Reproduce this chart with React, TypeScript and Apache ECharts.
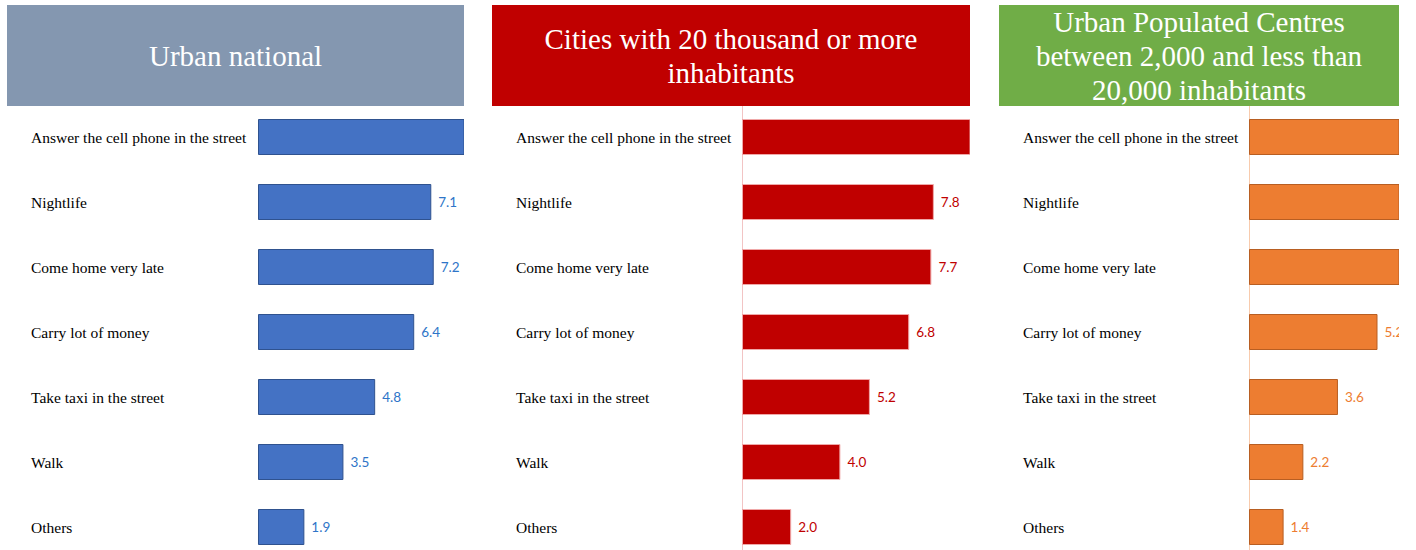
import React, { useEffect, useRef } from "react";
import * as echarts from "echarts";

const categories = [
  "Answer the cell phone in the street",
  "Nightlife",
  "Come home very late",
  "Carry lot of money",
  "Take taxi in the street",
  "Walk",
  "Others",
];

const urbanNational = [8.7, 7.1, 7.2, 6.4, 4.8, 3.5, 1.9];
const cities20k = [9.5, 7.8, 7.7, 6.8, 5.2, 4.0, 2.0];
const centres2k = [7.2, 6.6, 6.4, 5.2, 3.6, 2.2, 1.4];

const titles = [
  "Urban national",
  "Cities with 20 thousand or more\ninhabitants",
  "Urban Populated Centres\nbetween 2,000 and less than\n20,000 inhabitants",
];

type PanelCfg = {
  left: number;
  width: number;
  barStart: number;
  max: number;
  title: string;
  headerColor: string;
  barColor: string;
  borderColor: string;
  labelColor: string;
  axisColor: string | null;
  values: number[];
};

const panels: PanelCfg[] = [
  {
    left: 7,
    width: 457,
    barStart: 258,
    max: 8.44,
    title: titles[0],
    headerColor: "#8497B0",
    barColor: "#4472C4",
    borderColor: "#2F528F",
    labelColor: "#2E75C8",
    axisColor: null,
    values: urbanNational,
  },
  {
    left: 492,
    width: 478,
    barStart: 742,
    max: 9.27,
    title: titles[1],
    headerColor: "#C00000",
    barColor: "#C00000",
    borderColor: "#F0A8A8",
    labelColor: "#C00000",
    axisColor: "#F2C4C4",
    values: cities20k,
  },
  {
    left: 999,
    width: 400,
    barStart: 1249,
    max: 6.07,
    title: titles[2],
    headerColor: "#70AD47",
    barColor: "#ED7D31",
    borderColor: "#B85E22",
    labelColor: "#ED7D31",
    axisColor: "#F8CBAD",
    values: centres2k,
  },
];

const CHART_H = 620;

function Panel({ cfg }: { cfg: PanelCfg }) {
  const ref = useRef<HTMLDivElement>(null);
  useEffect(() => {
    if (!ref.current) return;
    const chart = echarts.init(ref.current, undefined, { renderer: "svg" });
    const gridLeft = cfg.barStart - cfg.left;
    chart.setOption({
      animation: false,
      graphic: [
        {
          type: "rect",
          shape: { x: 0, y: 5, width: cfg.width, height: 101 },
          style: { fill: cfg.headerColor },
          z: 10,
        },
        {
          type: "text",
          x: cfg.width / 2,
          y: 55.5,
          z: 11,
          style: {
            text: cfg.title,
            fill: "#ffffff",
            fontSize: 29,
            fontFamily: "Liberation Serif",
            align: "center",
            verticalAlign: "middle",
            lineHeight: 34,
          },
        },
      ],
      grid: {
        left: gridLeft,
        top: 104.5,
        width: cfg.width - gridLeft,
        height: 455,
        containLabel: false,
      },
      xAxis: {
        type: "value",
        min: 0,
        max: cfg.max,
        show: false,
        splitLine: { show: false },
      },
      yAxis: {
        type: "category",
        data: categories,
        inverse: true,
        axisTick: { show: false },
        axisLine: {
          show: cfg.axisColor !== null,
          lineStyle: { color: cfg.axisColor || "#fff", width: 1 },
        },
        axisLabel: {
          align: "left",
          margin: gridLeft - 24,
          color: "#000000",
          fontSize: 15.5,
          fontFamily: "Liberation Serif",
        },
      },
      series: [
        {
          type: "bar",
          data: cfg.values,
          barWidth: 36,
          clip: true,
          itemStyle: {
            color: cfg.barColor,
            borderColor: cfg.borderColor,
            borderWidth: 1,
          },
          label: {
            show: true,
            position: "right",
            distance: 7,
            color: cfg.labelColor,
            fontSize: 13.5,
            fontFamily: "Lato",
            formatter: (p: any) =>
              Number(p.value) > cfg.max ? "" : Number(p.value).toFixed(1),
          },
        },
      ],
    });
    return () => chart.dispose();
  }, [cfg]);
  return (
    <div
      style={{
        position: "absolute",
        left: cfg.left,
        top: 0,
        width: cfg.width,
        height: 550,
        overflow: "hidden",
      }}
    >
      <div ref={ref} style={{ width: cfg.width, height: CHART_H }} />
    </div>
  );
}

export default function App() {
  return (
    <div
      style={{
        position: "absolute",
        left: 0,
        top: 0,
        width: 1416,
        height: 550,
        background: "#ffffff",
        overflow: "hidden",
      }}
    >
      {panels.map((p, i) => (
        <Panel key={i} cfg={p} />
      ))}
    </div>
  );
}
